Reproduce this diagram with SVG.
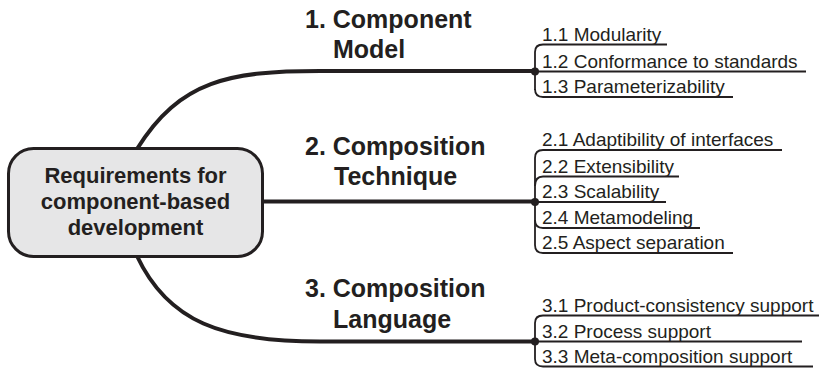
<svg xmlns="http://www.w3.org/2000/svg" width="819" height="369" viewBox="0 0 819 369">
  <style>
    .root { fill: #e6e6e7; stroke: #231f20; stroke-width: 3; }
    .root-text { font-family: "Liberation Sans", Arial, sans-serif; font-weight: bold; font-size: 22px; fill: #231f20; text-anchor: middle; }
    .title { font-family: "Liberation Sans", Arial, sans-serif; font-weight: bold; font-size: 25px; fill: #231f20; }
    .item { font-family: "Liberation Sans", Arial, sans-serif; font-size: 19px; fill: #231f20; }
    .branch { fill: none; stroke: #231f20; stroke-width: 4; stroke-linecap: butt; }
    .bracket { fill: none; stroke: #231f20; stroke-width: 1.8; }
    .dot { fill: #231f20; }
  </style>

  <!-- main branches from the central node to the three junctions -->
  <g id="connectors">
    <path class="branch" d="M137,149 C180,80 230,71 320,71 L535,71"/>
    <path class="branch" d="M263,201.5 L535,201.5"/>
    <path class="branch" d="M137,256 C168,322 222,341.5 320,341.5 L535,341.5"/>

    <!-- bracket 1 -->
    <path class="bracket" d="M535,52 V90"/>
    <path class="bracket" d="M535,52 Q535,44.5 543,44.5 H667"/>
    <path class="bracket" d="M535,71.5 H806"/>
    <path class="bracket" d="M535,89 Q535,97 543,97 H733"/>
    <circle class="dot" cx="535" cy="71.5" r="4"/>

    <!-- bracket 2 -->
    <path class="bracket" d="M535,158 V245"/>
    <path class="bracket" d="M535,158 Q535,150 543,150 H782"/>
    <path class="bracket" d="M535,186 Q535,176.5 543,176.5 H679"/>
    <path class="bracket" d="M535,202 H666"/>
    <path class="bracket" d="M535,220 Q535,228 543,228 H700"/>
    <path class="bracket" d="M535,245 Q535,253 543,253 H733"/>
    <circle class="dot" cx="535" cy="202" r="4"/>

    <!-- bracket 3 -->
    <path class="bracket" d="M535,323 V359"/>
    <path class="bracket" d="M535,323 Q535,315.5 543,315.5 H819"/>
    <path class="bracket" d="M535,341.5 H802"/>
    <path class="bracket" d="M535,359 Q535,366.5 543,366.5 H813"/>
    <circle class="dot" cx="535" cy="341.5" r="4"/>
  </g>

  <g id="root">
    <rect class="root" x="8.5" y="148.5" width="254" height="108" rx="25" ry="25"/>
    <text class="root-text" x="135.5" y="183">Requirements for</text>
    <text class="root-text" x="135.5" y="209">component-based</text>
    <text class="root-text" x="135.5" y="235">development</text>
  </g>

  <g id="component-model">
    <text class="title" x="305" y="28">1. Component</text>
    <text class="title" x="333" y="58">Model</text>
  </g>
  <g id="composition-technique">
    <text class="title" x="305" y="155">2. Composition</text>
    <text class="title" x="334" y="185">Technique</text>
  </g>
  <g id="composition-language">
    <text class="title" x="305" y="297">3. Composition</text>
    <text class="title" x="333" y="328">Language</text>
  </g>

  <g id="items-1">
    <text class="item" x="542" y="41">1.1 Modularity</text>
    <text class="item" x="542" y="67.5">1.2 Conformance to standards</text>
    <text class="item" x="542" y="93">1.3 Parameterizability</text>
  </g>
  <g id="items-2">
    <text class="item" x="542" y="146">2.1 Adaptibility of interfaces</text>
    <text class="item" x="542" y="172.5">2.2 Extensibility</text>
    <text class="item" x="542" y="198">2.3 Scalability</text>
    <text class="item" x="542" y="224">2.4 Metamodeling</text>
    <text class="item" x="542" y="249">2.5 Aspect separation</text>
  </g>
  <g id="items-3">
    <text class="item" x="542" y="311.5">3.1 Product-consistency support</text>
    <text class="item" x="542" y="337.5">3.2 Process support</text>
    <text class="item" x="542" y="362.5">3.3 Meta-composition support</text>
  </g>
</svg>
